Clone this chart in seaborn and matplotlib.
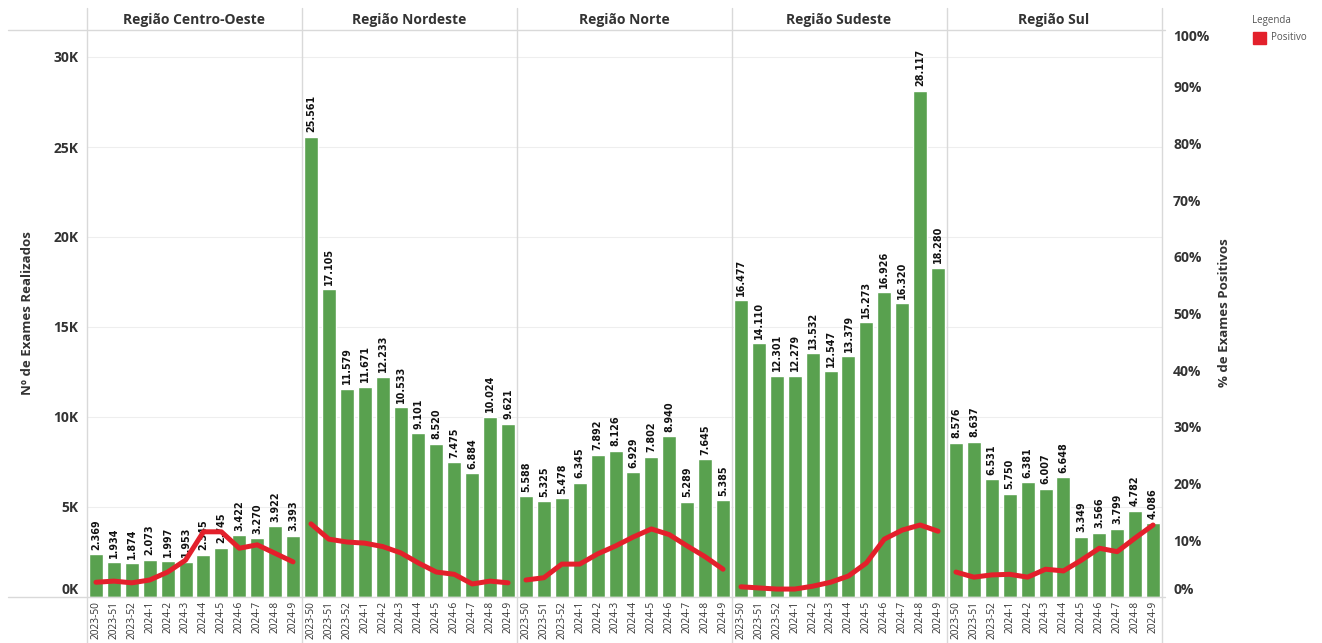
import numpy as np
import pandas as pd
import matplotlib
matplotlib.use("Agg")
import matplotlib.pyplot as plt
from matplotlib.lines import Line2D
from matplotlib.patches import Rectangle
import seaborn as sns

semanas = ["2023-50", "2023-51", "2023-52", "2024-1", "2024-2", "2024-3",
           "2024-4", "2024-5", "2024-6", "2024-7", "2024-8", "2024-9"]
regioes = ["Região Centro-Oeste", "Região Nordeste", "Região Norte",
           "Região Sudeste", "Região Sul"]

exames_centro_oeste = [2369, 1934, 1874, 2073, 1997, 1953, 2345, 2745, 3422, 3270, 3922, 3393]
exames_nordeste = [25561, 17105, 11579, 11671, 12233, 10533, 9101, 8520, 7475, 6884, 10024, 9621]
exames_norte = [5588, 5325, 5478, 6345, 7892, 8126, 6929, 7802, 8940, 5289, 7645, 5385]
exames_sudeste = [16477, 14110, 12301, 12279, 13532, 12547, 13379, 15273, 16926, 16320, 28117, 18280]
exames_sul = [8576, 8637, 6531, 5750, 6381, 6007, 6648, 3349, 3566, 3799, 4782, 4086]

pos_centro_oeste = [2.6, 2.8, 2.5, 3.0, 4.4, 6.5, 11.5, 11.5, 8.6, 9.2, 7.7, 6.2]
pos_nordeste = [12.9, 10.2, 9.7, 9.5, 8.9, 7.8, 6.0, 4.4, 4.0, 2.3, 2.8, 2.5]
pos_norte = [3.0, 3.4, 5.8, 5.8, 7.6, 9.0, 10.6, 12.0, 11.0, 9.0, 7.1, 4.9]
pos_sudeste = [1.8, 1.6, 1.4, 1.4, 1.9, 2.6, 3.7, 6.0, 10.2, 11.8, 12.7, 11.6]
pos_sul = [4.4, 3.5, 3.9, 4.0, 3.5, 4.9, 4.6, 6.5, 8.6, 8.0, 10.4, 12.7]

exames = [exames_centro_oeste, exames_nordeste, exames_norte, exames_sudeste, exames_sul]
positivos = [pos_centro_oeste, pos_nordeste, pos_norte, pos_sudeste, pos_sul]

VERDE = "#59a14f"
VERMELHO = "#e3202b"
TEXTO = "#333333"

sns.set_theme(style="white")
plt.rcParams["font.family"] = ["Open Sans", "DejaVu Sans"]

W, H = 1322, 643
fig = plt.figure(figsize=(W / 100, H / 100), dpi=100)
axes = fig.subplots(1, 5, sharey=True)
fig.subplots_adjust(left=87 / W, right=1162 / W, bottom=1 - 597 / H, top=1 - 30 / H, wspace=0)

def fx(px):
    return px / W

def fy(py):
    return 1 - py / H

pct_ticks = np.arange(0, 1.01, 0.1)

for i, ax in enumerate(axes):
    df = pd.DataFrame({"semana": semanas, "exames": exames[i],
                       "positivo": np.array(positivos[i]) / 100})
    sns.barplot(data=df, x="semana", y="exames", color=VERDE, saturation=1,
                width=0.78, ax=ax)
    ax.set_ylim(0, 31500)
    ax.set_xlim(-0.5, 11.5)
    ax.set_yticks(range(0, 30001, 5000))
    ax.grid(axis="y", color="#eeeeee", lw=0.8)
    ax.set_axisbelow(True)
    for s in ax.spines.values():
        s.set_visible(False)
    ax.set_xlabel("")
    ax.set_ylabel("")
    ax.tick_params(axis="x", length=0, pad=3, labelsize=7.3, labelcolor=TEXTO,
                   labelrotation=90)
    ax.tick_params(axis="y", length=0)
    for j, v in enumerate(df["exames"]):
        ax.text(j, v + 250, f"{v:,}".replace(",", "."), rotation=90,
                ha="center", va="bottom", fontsize=6.9, fontweight="bold",
                color="#111111", family="DejaVu Sans")

    ax2 = ax.twinx()
    sns.lineplot(data=df, x="semana", y="positivo", color=VERMELHO, lw=3.6,
                 sort=False, legend=False, ax=ax2,
                 solid_joinstyle="round", solid_capstyle="round")
    ax2.set_ylim(0, 1)
    ax2.set_xlim(-0.5, 11.5)
    ax2.set_ylabel("")
    ax2.set_xlabel("")
    for s in ax2.spines.values():
        s.set_visible(False)
    if i < 4:
        ax2.set_yticks([])
    else:
        ax2.set_yticks(pct_ticks)
        ax2.set_yticklabels([f"{int(round(t * 100))}%" for t in pct_ticks],
                            fontsize=10, fontweight="bold", color=TEXTO)
        ax2.tick_params(axis="y", length=0, pad=8)
        labs = ax2.get_yticklabels()
        labs[0].set_verticalalignment("bottom")
        labs[-1].set_verticalalignment("top")

    fig.text(fx(87 + 215 * i + 107), fy(20), regioes[i], ha="center", va="center",
             fontsize=10, fontweight="bold", color=TEXTO)

axes[0].set_yticklabels([f"{t // 1000}K" for t in range(0, 30001, 5000)],
                        fontsize=10, fontweight="bold", color=TEXTO)
axes[0].tick_params(axis="y", pad=6)
axes[0].get_yticklabels()[0].set_verticalalignment("bottom")

fig.text(fx(28), fy(313), "Nº de Exames Realizados", rotation=90, ha="center",
         va="center", fontsize=9.5, fontweight="bold", color=TEXTO)
fig.text(fx(1225), fy(313), "% de Exames Positivos", rotation=90, ha="center",
         va="center", fontsize=9.5, fontweight="bold", color=TEXTO)

# frame lines around header and panels
line_kw = dict(color="#d9d9d9", lw=1, transform=fig.transFigure)
fig.add_artist(Line2D([fx(8), fx(1165)], [fy(30), fy(30)], **line_kw))
fig.add_artist(Line2D([fx(8), fx(1165)], [fy(597), fy(597)], **line_kw))
for xp in [87, 302, 517, 732, 947, 1162]:
    fig.add_artist(Line2D([fx(xp), fx(xp)], [fy(8), fy(643)], **line_kw))

# legend
fig.text(fx(1252), fy(20), "Legenda", ha="left", va="center", fontsize=7, color="#555555")
fig.add_artist(Rectangle((fx(1253), fy(44)), fx(13), 12 / H, color=VERMELHO,
                         transform=fig.transFigure))
fig.text(fx(1271), fy(38), "Positivo", ha="left", va="center", fontsize=7, color="#555555")

fig.savefig("out.png", dpi=100)
